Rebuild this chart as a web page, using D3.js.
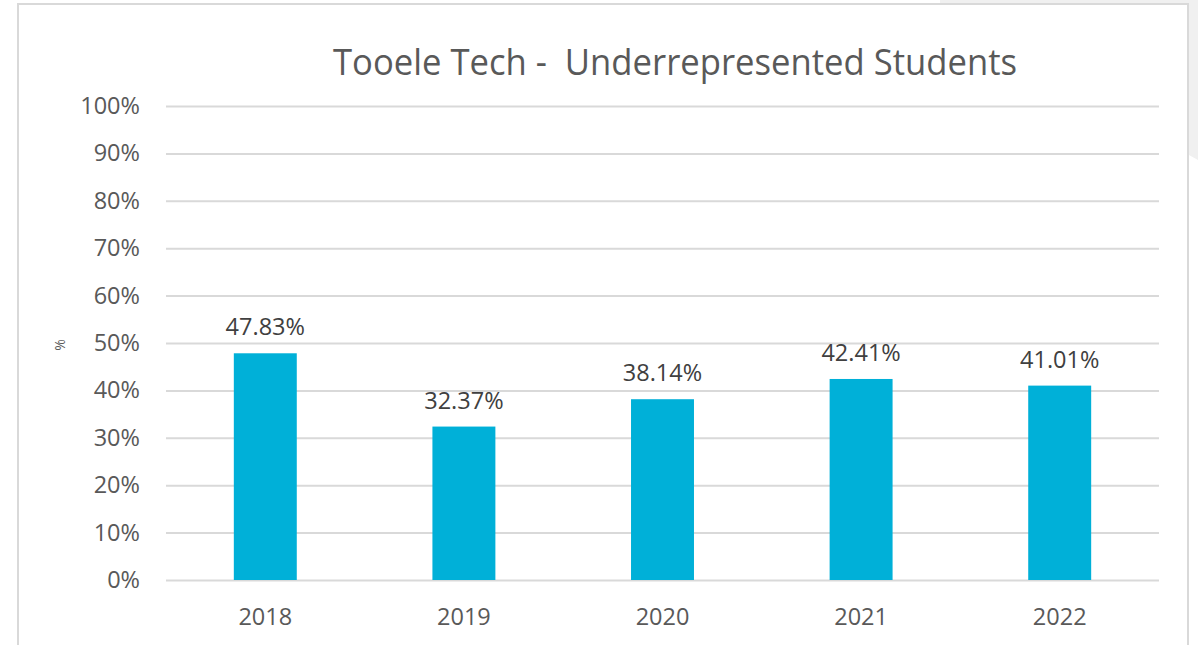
<!DOCTYPE html>
<html>
<head>
<meta charset="utf-8">
<script src="https://cdn.jsdelivr.net/npm/d3@7"></script>
<style>
  html, body { margin: 0; padding: 0; background: #fff; }
  svg { display: block; }
  svg text { font-family: "Open Sans", Lato, sans-serif; }
</style>
</head>
<body>
<svg id="chart" width="1198" height="645"></svg>
<script>
// chart values
var years = ["2018", "2019", "2020", "2021", "2022"];
var shares = [47.83, 32.37, 38.14, 42.41, 41.01];
var yTicks = [0, 10, 20, 30, 40, 50, 60, 70, 80, 90, 100];
var chartTitle = "Tooele Tech -  Underrepresented Students";

var svg = d3.select("#chart");
var W = 1198, H = 645;
var margin = { top: 106, right: 39, bottom: 65, left: 166 };
var width = W - margin.left - margin.right;
var height = H - margin.top - margin.bottom;

// screenshot backdrop on the right / top
svg.append("path")
    .attr("d", "M940,0 L1198,0 L1198,160 L1189,155 L1189,4 L940,4 Z")
    .attr("fill", "#f0f0f0");

// chart frame
svg.append("rect")
    .attr("x", 18).attr("y", 4)
    .attr("width", 1170).attr("height", 660)
    .attr("fill", "#fff")
    .attr("stroke", "#d9d9d9")
    .attr("stroke-width", 2);

var g = svg.append("g").attr("transform", "translate(" + margin.left + "," + margin.top + ")");

var x = d3.scaleBand().domain(years).range([0, width]).paddingInner(0.683).paddingOuter(0.3415);
var y = d3.scaleLinear().domain([0, 100]).range([height, 0]);

// gridlines + y labels
var yAxis = d3.axisLeft(y)
    .tickValues(yTicks)
    .tickSize(-width)
    .tickPadding(26)
    .tickFormat(function(d) { return d + "%"; });

var yGroup = g.append("g").attr("class", "axis axis--y").call(yAxis);
yGroup.attr("font-family", null).attr("font-size", null);
yGroup.select(".domain").remove();
yGroup.selectAll(".tick line").attr("stroke", "#d9d9d9").attr("stroke-width", 2);
yGroup.selectAll(".tick text")
    .attr("fill", "#595959")
    .style("font-size", "23.5px");

// bars
g.selectAll(".bar")
    .data(shares)
    .enter().append("rect")
    .attr("class", "bar")
    .attr("x", function(d, i) { return x(years[i]); })
    .attr("y", function(d) { return y(d); })
    .attr("width", x.bandwidth())
    .attr("height", function(d) { return height - y(d); })
    .attr("fill", "#00b0d8");

// value labels
g.selectAll(".val")
    .data(shares)
    .enter().append("text")
    .attr("class", "val")
    .attr("x", function(d, i) { return x(years[i]) + x.bandwidth() / 2; })
    .attr("y", function(d) { return y(d) - 18; })
    .attr("text-anchor", "middle")
    .attr("fill", "#404040")
    .style("font-size", "23.5px")
    .text(function(d) { return d.toFixed(2) + "%"; });

// x axis labels
var xAxis = d3.axisBottom(x).tickSize(0).tickPadding(28);
var xGroup = g.append("g")
    .attr("class", "axis axis--x")
    .attr("transform", "translate(0," + height + ")")
    .call(xAxis);
xGroup.attr("font-family", null).attr("font-size", null);
xGroup.select(".domain").remove();
xGroup.selectAll(".tick text")
    .attr("fill", "#595959")
    .style("font-size", "23.5px");

// axis title
svg.append("text")
    .attr("transform", "translate(65,345) rotate(-90)")
    .attr("text-anchor", "middle")
    .attr("fill", "#595959")
    .style("font-size", "14px")
    .text("%");

// chart title
svg.append("text")
    .attr("x", 675)
    .attr("y", 75)
    .attr("text-anchor", "middle")
    .attr("fill", "#595959")
    .attr("textLength", 684)
    .attr("lengthAdjust", "spacingAndGlyphs")
    .style("font-size", "36px")
    .style("white-space", "pre")
    .text(chartTitle);
</script>
</body>
</html>
